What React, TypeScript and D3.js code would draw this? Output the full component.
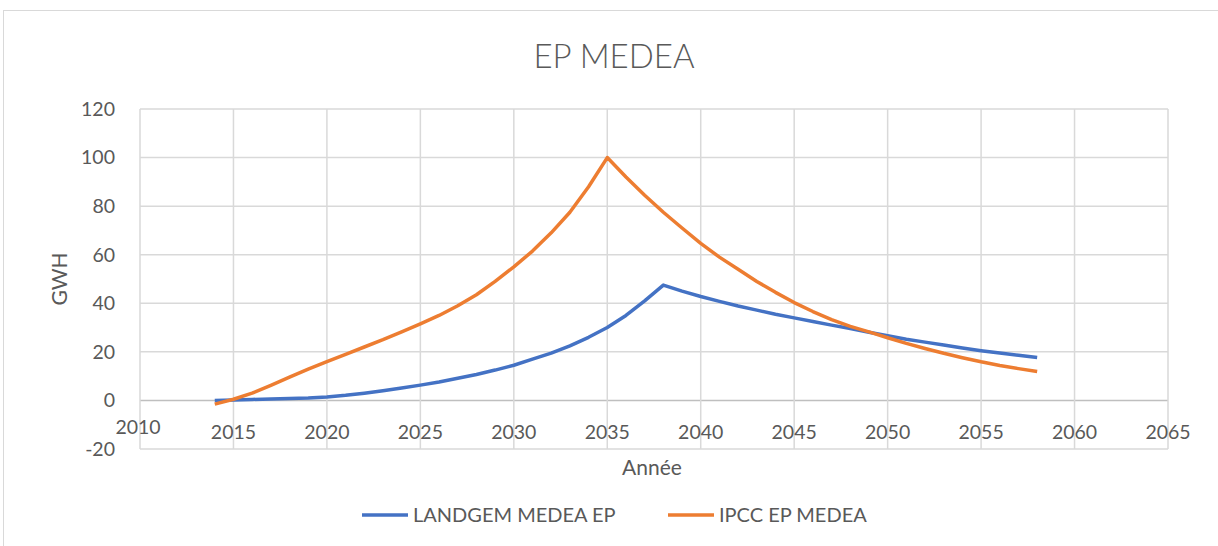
import React from "react";
import * as d3 from "d3";

const years: number[] = [
  2014, 2015, 2016, 2017, 2018, 2019, 2020, 2021, 2022, 2023, 2024, 2025, 2026, 2027, 2028,
  2029, 2030, 2031, 2032, 2033, 2034, 2035, 2036, 2037, 2038, 2039, 2040, 2041, 2042, 2043,
  2044, 2045, 2046, 2047, 2048, 2049, 2050, 2051, 2052, 2053, 2054, 2055, 2056, 2057, 2058,
];
const landgem: number[] = [
  0, 0.2, 0.4, 0.6, 0.8, 1.0, 1.4, 2.1, 3.0, 4.0, 5.1, 6.3, 7.6, 9.1, 10.7,
  12.5, 14.5, 17.0, 19.5, 22.5, 26.0, 30.0, 35.0, 41.0, 47.5, 45.0, 42.8, 40.8, 38.9, 37.2,
  35.5, 34.0, 32.5, 31.0, 29.6, 28.1, 26.6, 25.2, 24.0, 22.8, 21.6, 20.5, 19.5, 18.6, 17.7,
];
const ipcc: number[] = [
  -1.5, 0.5, 3.0, 6.2, 9.6, 12.9, 16.0, 19.0, 22.0, 25.0, 28.2, 31.5, 35.0, 39.0, 43.5,
  49.0, 55.0, 61.5, 69.0, 77.5, 88.0, 100.0, 92.0, 84.5, 77.5, 71.0, 64.7, 59.0, 54.0, 49.0,
  44.5, 40.3, 36.6, 33.3, 30.5, 28.2, 25.8, 23.5, 21.4, 19.4, 17.6, 15.9, 14.4, 13.1, 11.9,
];
const xTicks: number[] = [2010, 2015, 2020, 2025, 2030, 2035, 2040, 2045, 2050, 2055, 2060, 2065];
const yTicks: number[] = [-20, 0, 20, 40, 60, 80, 100, 120];
const seriesNames: string[] = ["LANDGEM MEDEA EP", "IPCC EP MEDEA"];
const seriesColors: string[] = ["#4472c4", "#ed7d31"];
const title = "EP MEDEA";
const xTitle = "Année";
const yTitle = "GWH";

const W = 1218;
const H = 546;
const FONT = "Lato, 'Open Sans', sans-serif";
const TXT = "#595959";

export default function App() {
  const x = d3.scaleLinear().domain([2010, 2065]).range([140, 1168]);
  const y = d3.scaleLinear().domain([-20, 120]).range([449, 109]);
  const line = d3
    .line<[number, number]>()
    .x((d) => x(d[0]))
    .y((d) => y(d[1]));
  const series = [landgem, ipcc].map((vals) => years.map((yr, i) => [yr, vals[i]] as [number, number]));

  return (
    <svg
      width={W}
      height={H}
      style={{ position: "absolute", left: 0, top: 0, background: "#fff" }}
      fontFamily={FONT}
    >
      <rect x={3.5} y={10.5} width={W + 10} height={H + 10} fill="#fff" stroke="#d9d9d9" strokeWidth={1} />
      <text x={614} y={68} textAnchor="middle" fontSize={33} fill={TXT} fontWeight={300}>
        {title}
      </text>
      {yTicks.map((t) => (
        <line
          key={"gy" + t}
          x1={140}
          x2={1168}
          y1={y(t)}
          y2={y(t)}
          stroke={t === 0 ? "#bfbfbf" : "#d9d9d9"}
          strokeWidth={1.5}
        />
      ))}
      {xTicks.map((t) => (
        <line key={"gx" + t} x1={x(t)} x2={x(t)} y1={109} y2={449} stroke="#d9d9d9" strokeWidth={1.5} />
      ))}
      {yTicks.map((t) => (
        <text key={"ly" + t} x={115} y={y(t)} dy="0.35em" textAnchor="end" fontSize={19.5} fill={TXT}>
          {t}
        </text>
      ))}
      {xTicks.map((t, i) => (
        <text
          key={"lx" + t}
          x={x(t) - (i === 0 ? 2 : 0)}
          y={i === 0 ? 427 : 432}
          dy="0.35em"
          textAnchor="middle"
          fontSize={19.5}
          fill={TXT}
        >
          {t}
        </text>
      ))}
      <text x={652} y={468} dy="0.35em" textAnchor="middle" fontSize={21} fill={TXT}>
        {xTitle}
      </text>
      <text
        transform={`translate(60,279) rotate(-90)`}
        dy="0.35em"
        textAnchor="middle"
        fontSize={21}
        fill={TXT}
      >
        {yTitle}
      </text>
      {series.map((s, i) => (
        <path
          key={"s" + i}
          d={line(s) || ""}
          fill="none"
          stroke={seriesColors[i]}
          strokeWidth={3.5}
          strokeLinejoin="round"
        />
      ))}
      {seriesNames.map((n, i) => {
        const lx = i === 0 ? 362 : 668;
        return (
          <g key={"lg" + i}>
            <line x1={lx} x2={lx + 46} y1={515} y2={515} stroke={seriesColors[i]} strokeWidth={3.5} />
            <text x={lx + 51} y={515} dy="0.35em" fontSize={20} fill={TXT}>
              {n}
            </text>
          </g>
        );
      })}
    </svg>
  );
}
